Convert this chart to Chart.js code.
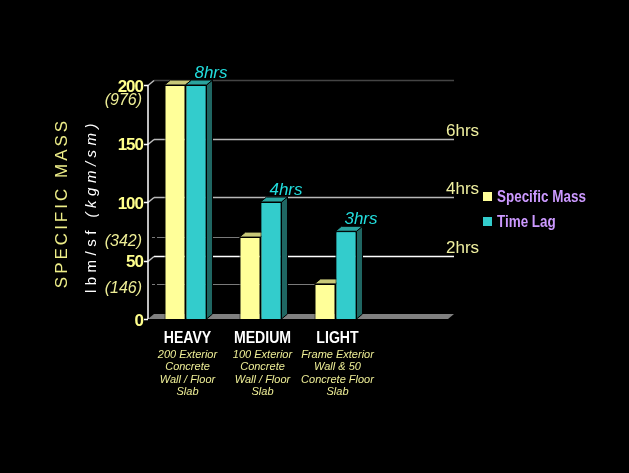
<!DOCTYPE html>
<html>
<head>
<meta charset="utf-8">
<script src="https://cdn.jsdelivr.net/npm/chart.js@4.4.1/dist/chart.umd.min.js"></script>
<style>
  html, body { margin: 0; background: #000; }
  canvas { display: block; }
</style>
</head>
<body>
<canvas id="chart" width="629" height="473"></canvas>
<script>
const categories = ["HEAVY", "MEDIUM", "LIGHT"];
const descriptions = [
  ["200 Exterior", "Concrete", "Wall / Floor", "Slab"],
  ["100 Exterior", "Concrete", "Wall / Floor", "Slab"],
  ["Frame Exterior", "Wall & 50", "Concrete Floor", "Slab"]
];
const specificMass = [200, 70, 30];   // lbm/sf
const timeLag = [8, 4, 3];            // hrs
const massTicks = [0, 50, 100, 150, 200];
const metricTicks = [976, 342, 146];  // kg/m2
const hrsTicks = [2, 4, 6];
const KG_PER_LB = 4.882;

const DX = 6, DY = 5;
const FONT = "'Liberation Sans', Arial, sans-serif";
const gridColors = [null, "#ffffff", "#b8b8b8", "#b8b8b8", "#444444"];

function poly(ctx, pts, fill) {
  ctx.beginPath();
  ctx.moveTo(pts[0][0], pts[0][1]);
  for (let i = 1; i < pts.length; i++) ctx.lineTo(pts[i][0], pts[i][1]);
  ctx.closePath();
  ctx.fillStyle = fill;
  ctx.fill();
  ctx.stroke();
}

// condensed text (no narrow font installed)
function narrowText(ctx, text, x, y, sx) {
  ctx.save();
  ctx.translate(x, y);
  ctx.scale(sx, 1);
  ctx.fillText(text, 0, 0);
  ctx.restore();
}

function faces(ctx, ds, bar) {
  const { x, y, base, width } = bar.getProps(["x", "y", "base", "width"], true);
  const l = x - width / 2, r = x + width / 2;
  poly(ctx, [[r, y], [r + DX, y - DY], [r + DX, base - DY], [r, base]], ds.sideColor);
  poly(ctx, [[l, y], [l + DX, y - DY], [r + DX, y - DY], [r, y]], ds.topColor);
}

const deco = {
  id: "deco",
  beforeDatasetsDraw(chart) {
    const { ctx, chartArea: a, scales: { y } } = chart;
    ctx.save();
    // floor
    ctx.fillStyle = "#808080";
    ctx.beginPath();
    ctx.moveTo(a.left, a.bottom);
    ctx.lineTo(a.left + DX, a.bottom - DY);
    ctx.lineTo(a.right + DX, a.bottom - DY);
    ctx.lineTo(a.right, a.bottom);
    ctx.closePath();
    ctx.fill();
    // back wall grid lines
    ctx.lineWidth = 1.5;
    massTicks.forEach((v, i) => {
      if (!v) return;
      const py = Math.round(y.getPixelForValue(v)) + 0.5;
      ctx.strokeStyle = gridColors[i];
      ctx.beginPath();
      ctx.moveTo(a.left + DX, py - DY);
      ctx.lineTo(a.right + DX, py - DY);
      ctx.stroke();
      ctx.strokeStyle = "#c0c0c0";
      ctx.beginPath();
      ctx.moveTo(a.left, py);
      ctx.lineTo(a.left + DX, py - DY);
      ctx.stroke();
    });
    // metric leader lines, from the axis to the matching bar
    ctx.strokeStyle = "#7a7a7a";
    ctx.lineWidth = 1;
    const bars = chart.getDatasetMeta(0).data;
    metricTicks.forEach(kg => {
      const v = kg / KG_PER_LB;
      if (v > 190) return;
      let k = 0;
      specificMass.forEach((m, i) => { if (Math.abs(m - v) < Math.abs(specificMass[k] - v)) k = i; });
      const py = Math.round(y.getPixelForValue(v)) + 0.5;
      ctx.beginPath();
      ctx.moveTo(a.left + 4, py); ctx.lineTo(a.left + 7, py);
      ctx.moveTo(a.left + 9, py); ctx.lineTo(bars[k].x, py);
      ctx.stroke();
    });
    ctx.restore();
  },
  afterDatasetsDraw(chart) {
    // 3D faces: yellow first, then repaint teal front on top of it
    const ctx = chart.ctx;
    const [dsMass, dsLag] = chart.data.datasets;
    ctx.save();
    ctx.strokeStyle = "#000";
    ctx.lineWidth = 1;
    chart.getDatasetMeta(0).data.forEach(bar => faces(ctx, dsMass, bar));
    chart.getDatasetMeta(1).data.forEach(bar => {
      bar.draw(ctx, chart.chartArea);
      ctx.strokeStyle = "#000";
      ctx.lineWidth = 1;
      faces(ctx, dsLag, bar);
    });
    ctx.restore();
  },
  afterDraw(chart) {
    const { ctx, chartArea: a, scales: { x, y, y2 } } = chart;
    ctx.save();
    // left axis
    ctx.strokeStyle = "#fff";
    ctx.lineWidth = 1.5;
    ctx.beginPath();
    ctx.moveTo(a.left, y.getPixelForValue(200));
    ctx.lineTo(a.left, y.getPixelForValue(0));
    massTicks.forEach(v => {
      const py = Math.round(y.getPixelForValue(v)) + 0.5;
      ctx.moveTo(a.left - 4, py);
      ctx.lineTo(a.left, py);
    });
    ctx.stroke();

    // major tick labels
    ctx.fillStyle = "#ffff8c";
    ctx.font = "bold 17px " + FONT;
    ctx.letterSpacing = "-1px";
    ctx.textAlign = "right";
    ctx.textBaseline = "middle";
    const majorPx = massTicks.map(v => y.getPixelForValue(v));
    massTicks.forEach((v, i) => ctx.fillText(String(v), a.left - 5, majorPx[i] + 2));

    // metric labels
    ctx.letterSpacing = "0px";
    ctx.font = "italic 16px " + FONT;
    ctx.fillStyle = "#eeee96";
    metricTicks.forEach(kg => {
      const py = y.getPixelForValue(kg / KG_PER_LB);
      let ly = py + 5;
      majorPx.forEach(mp => { if (Math.abs(py - mp) < 8) ly = mp + 16; });
      ctx.fillText("(" + kg + ")", a.left - 6, ly);
    });

    // axis titles
    ctx.save();
    ctx.translate(62, 203);
    ctx.rotate(-Math.PI / 2);
    ctx.textAlign = "center";
    ctx.font = "17px " + FONT;
    ctx.letterSpacing = "3px";
    ctx.fillStyle = "#eeee88";
    ctx.fillText("SPECIFIC MASS", 0, 0);
    ctx.restore();

    ctx.save();
    ctx.translate(92, 206);
    ctx.rotate(-Math.PI / 2);
    ctx.textBaseline = "middle";
    ctx.textAlign = "left";
    ctx.letterSpacing = "4.5px";
    ctx.fillStyle = "#ffffff";
    const p1 = "lbm/sf ", p2 = "(kgm/sm)";
    ctx.font = "15px " + FONT;
    const w1 = ctx.measureText(p1).width;
    ctx.font = "italic 15px " + FONT;
    const w2 = ctx.measureText(p2).width;
    const sx = -(w1 + w2) / 2;
    ctx.font = "15px " + FONT;
    ctx.fillText(p1, sx, 0);
    ctx.font = "italic 15px " + FONT;
    ctx.fillText(p2, sx + w1, 0);
    ctx.restore();

    // category labels
    ctx.textAlign = "center";
    ctx.textBaseline = "alphabetic";
    ctx.letterSpacing = "0px";
    categories.forEach((c, i) => {
      const cx = x.getPixelForValue(i) + 2;
      ctx.font = "bold 17px " + FONT;
      ctx.fillStyle = "#ffffff";
      narrowText(ctx, c, cx, 343, 0.83);
      ctx.font = "italic 11px " + FONT;
      ctx.fillStyle = "#eeee96";
      descriptions[i].forEach((line, j) => ctx.fillText(line, cx, 358 + j * 12.4));
    });

    // right-hand hour labels
    ctx.textAlign = "left";
    ctx.font = "17px " + FONT;
    ctx.fillStyle = "#f0f0a0";
    hrsTicks.forEach(h => ctx.fillText(h + "hrs", a.right - 2, y2.getPixelForValue(h) - 8));

    // bar value labels
    ctx.textAlign = "center";
    ctx.font = "italic 17px " + FONT;
    ctx.fillStyle = "#22dede";
    chart.getDatasetMeta(1).data.forEach((bar, i) => {
      ctx.fillText(timeLag[i] + "hrs", bar.x + 15, bar.y - 7);
    });

    // legend
    ctx.textAlign = "left";
    ctx.font = "bold 16px " + FONT;
    chart.data.datasets.forEach((ds, i) => {
      const ty = 202 + i * 25;
      ctx.fillStyle = ds.backgroundColor;
      ctx.fillRect(483, ty - 10, 9, 9);
      ctx.fillStyle = "#cc99ff";
      narrowText(ctx, ds.label, 497, ty, 0.84);
    });
    ctx.restore();
  }
};

new Chart(document.getElementById("chart"), {
  type: "bar",
  data: {
    labels: [...categories, ""],
    datasets: [
      {
        label: "Specific Mass", data: specificMass, yAxisID: "y",
        backgroundColor: "#ffff99", borderColor: "#000", borderWidth: 1,
        topColor: "#c8c878", sideColor: "#8c8c50"
      },
      {
        label: "Time Lag", data: timeLag, yAxisID: "y2",
        backgroundColor: "#33cccc", borderColor: "#000", borderWidth: 1,
        topColor: "#2aa39e", sideColor: "#1f6662"
      }
    ]
  },
  options: {
    responsive: false,
    animation: false,
    devicePixelRatio: 1,
    layout: { padding: { left: 148, right: 181, top: 85, bottom: 154 } },
    datasets: { bar: { categoryPercentage: 0.56, barPercentage: 1 } },
    plugins: { legend: { display: false }, tooltip: { enabled: false } },
    scales: {
      x: { display: false },
      y: { display: false, min: 0, max: 200 },
      y2: { display: false, min: 0, max: 8 }
    }
  },
  plugins: [deco]
});
</script>
</body>
</html>
